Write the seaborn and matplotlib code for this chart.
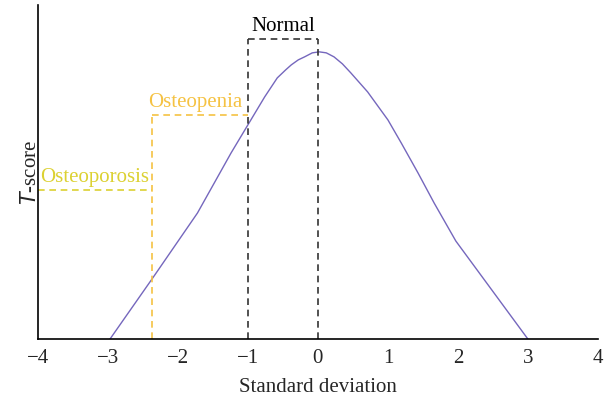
import numpy as np
import pandas as pd
import matplotlib
matplotlib.use("Agg")
from matplotlib import pyplot as plt
import seaborn as sns

# Curve (x = standard deviation, y = arbitrary height)
sd = [-2.97, -2.36, -1.72, -1.48, -1.24, -1.0, -0.76, -0.58, -0.46, -0.38, -0.28,
      -0.19, -0.08, 0.02, 0.12, 0.23, 0.35, 0.47, 0.71, 1.0, 1.19, 1.43, 1.66, 1.97, 3.0]
height = [0.0, 0.61, 1.26, 1.56, 1.86, 2.14, 2.42, 2.61, 2.69, 2.74, 2.79,
          2.82, 2.86, 2.87, 2.86, 2.82, 2.75, 2.66, 2.47, 2.19, 1.96, 1.66, 1.36, 0.98, 0.0]

# Category boxes: label, left edge, right edge, top
zone_labels = ["Osteoporosis", "Osteopenia", "Normal"]
zone_left = [-4.0, -2.37, -1.0]
zone_right = [-2.37, -1.0, 0.0]
zone_top = [1.49, 2.24, 3.0]
zone_colors = ["#dcd132", "#f5c243", "#333333"]

x_ticks = [-4, -3, -2, -1, 0, 1, 2, 3, 4]

sns.set_style("white")
plt.rcParams['font.family'] = ['Liberation Serif', 'DejaVu Serif']
plt.rcParams['axes.unicode_minus'] = True

fig, ax = plt.subplots(figsize=(6.09, 4.0), dpi=100)
fig.subplots_adjust(left=0.062, right=0.982, top=0.988, bottom=0.152)

df = pd.DataFrame({"sd": sd, "height": height})
sns.lineplot(data=df, x="sd", y="height", ax=ax, color="#7567bd", linewidth=1.0)

dash = (0, (4, 2.8))
for i, label in enumerate(zone_labels):
    left, right, top, col = zone_left[i], zone_right[i], zone_top[i], zone_colors[i]
    ax.plot([left, right], [top, top], color=col, linestyle=dash, linewidth=1.2)
    if left > -4:
        ax.plot([left, left], [0, top], color=col, linestyle=dash, linewidth=1.2)
    if label == "Normal":
        ax.plot([right, right], [0, top], color=col, linestyle=dash, linewidth=1.2)
    ax.text((left + right) / 2 - (0.06 if label == "Osteopenia" else 0), top + 0.03, label,
            color=col if label != "Normal" else "black",
            ha="center", va="bottom", fontsize=15)

ax.set_xlim(-4, 4)
ax.set_ylim(0, 3.34)
ax.set_xticks(x_ticks)
ax.set_xticklabels([f"\u2212{abs(t)}" if t < 0 else str(t) for t in x_ticks], fontsize=15)
ax.set_yticks([])
ax.tick_params(axis="x", length=0, pad=7)
ax.set_xlabel("Standard deviation", fontsize=15, labelpad=7)
ax.set_ylabel("$\\mathit{T}$-score", fontsize=15, labelpad=-2)
sns.despine(ax=ax)
for s in ["left", "bottom"]:
    ax.spines[s].set_color("black")
    ax.spines[s].set_linewidth(1.2)

fig.savefig("out.png", dpi=100)
